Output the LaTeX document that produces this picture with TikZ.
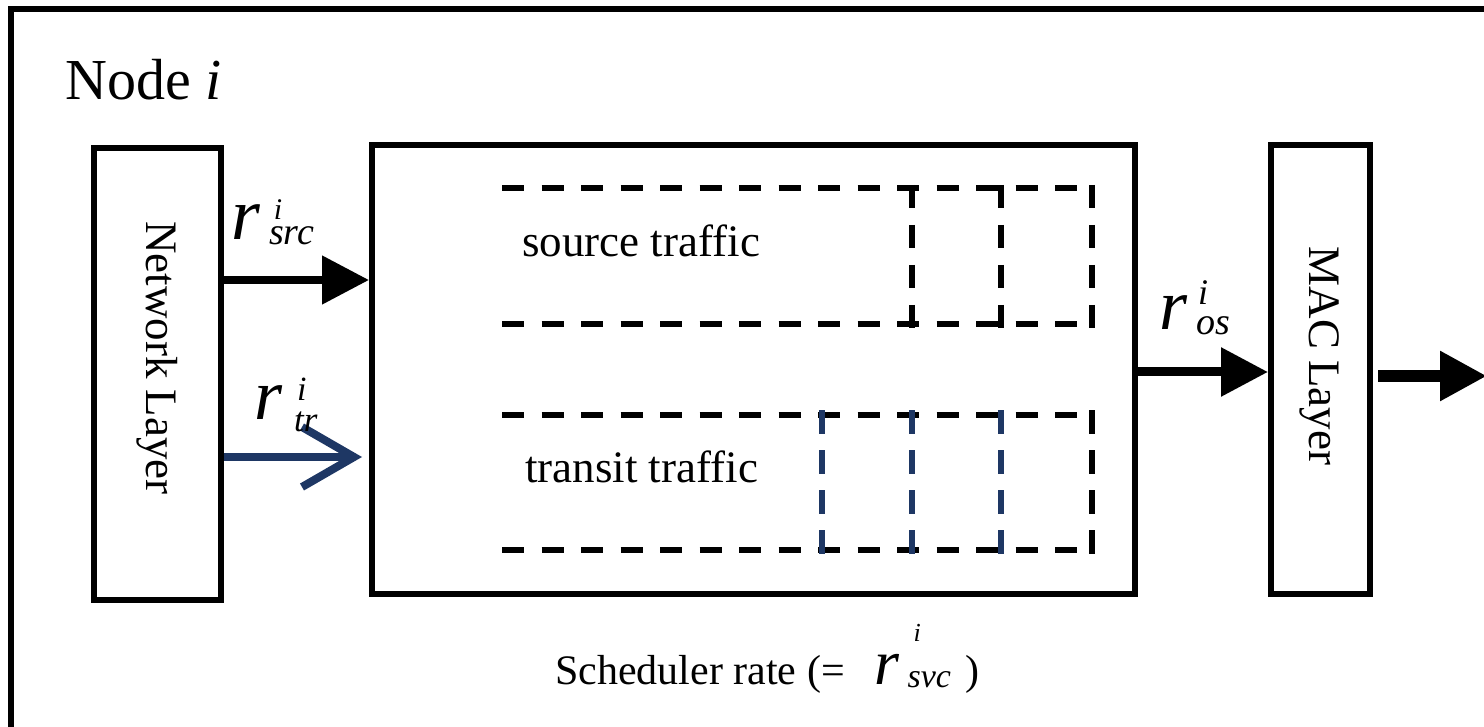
\documentclass[tikz,border=0pt]{standalone}
\usepackage{fontspec}
\setmainfont{Liberation Serif}
\usetikzlibrary{arrows.meta}

\definecolor{navy}{RGB}{30,55,100}

% text at a given point size
\newcommand{\sz}[2]{{\fontsize{#1}{#1}\selectfont #2}}

\tikzset{
  frame/.style={line width=6pt},
  layerbox/.style={draw, line width=6pt, inner sep=0pt},
  txt/.style={inner sep=0pt, anchor=base west},
  vtxt/.style={inner sep=0pt, rotate=-90, font=\fontsize{45}{45}\selectfont},
  lbl/.style={inner sep=0pt, anchor=base west, font=\itshape},
  queue/.style={line width=5.5pt, dash pattern=on 22pt off 17.5pt},
  slot/.style={line width=5.5pt, dash pattern=on 23.5pt off 16.5pt},
  flow/.style={line width=9pt, -{Triangle[length=47pt,width=47pt]}},
  transit/.style={line width=8pt, navy, -{Straight Barb[length=52pt,width=60pt]}}
}

\begin{document}
\begin{tikzpicture}[x=1pt,y=-1pt]
  \clip (0,0) rectangle (1484,727);
  \useasboundingbox (0,0) rectangle (1484,727);

  % outer frame of the node
  \draw[frame] (11,760) -- (11,9) -- (1520,9);
  \node[txt, font=\fontsize{58}{58}\selectfont] (title) at (65,100) {Node \textit{i}};

  % layers
  \node[layerbox, minimum width=127pt, minimum height=452pt] (nl) at (157.5,374) {};
  \node[vtxt] (nltext) at (157,358) {Network Layer};
  \node[layerbox, minimum width=763pt, minimum height=449pt] (sched) at (753.5,369.5) {};
  \node[layerbox, minimum width=99pt, minimum height=449pt] (mac) at (1320.5,369.5) {};
  \node[vtxt] (mactext) at (1320,356) {MAC Layer};

  % source traffic queue
  \draw[queue] (502,188) -- (1080,188);
  \draw[queue] (502,324) -- (1080,324);
  \foreach \x in {912,1001,1092} \draw[slot] (\x,185) -- (\x,329);
  \node[txt, font=\fontsize{45}{45}\selectfont] (srcq) at (522,257) {source traffic};

  % transit traffic queue
  \draw[queue] (502,415) -- (1080,415);
  \draw[queue] (502,550) -- (1080,550);
  \foreach \x in {822,912,1001} \draw[slot, navy] (\x,410) -- (\x,554);
  \draw[slot] (1092,410) -- (1092,554);
  \node[txt, font=\fontsize{45}{45}\selectfont] (trq) at (525,482) {transit traffic};

  % flows between the layers
  \coordinate (ysrc) at (0,280);
  \coordinate (ytr) at (0,457);
  \coordinate (yos) at (0,372);
  \coordinate (out) at (1487,376);
  \draw[flow, line width=8pt] (nl.east |- ysrc) -- (sched.west |- ysrc);
  \draw[transit, shorten >=7pt] (nl.east |- ytr) -- (sched.west |- ytr);
  \draw[flow] (sched.east |- yos) -- (mac.west |- yos);
  \draw[flow, line width=12pt] ([xshift=5pt]mac.east |- out) -- (out);

  % rate labels
  \node[lbl] (rsrc) at (231,240) {\sz{74}{r}\hbox to 0pt{\kern14pt\raisebox{20pt}{\sz{30}{i}}\hss}\kern9pt\raisebox{-5pt}{\sz{38}{src}}};
  \node[lbl] (rtr) at (254,420) {\sz{72}{r}\hbox to 0pt{\kern15pt\raisebox{20pt}{\sz{34}{i}}\hss}\kern12pt\raisebox{-12pt}{\sz{35}{tr}}};
  \node[lbl] (ros) at (1159,330) {\sz{72}{r}\hbox to 0pt{\kern11pt\raisebox{25pt}{\sz{36}{i}}\hss}\kern9pt\raisebox{-5pt}{\sz{38}{os}}};

  % scheduler rate
  \node[txt, font=\fontsize{42}{42}\selectfont] (rate) at (555,684)
    {Scheduler rate (=\hspace{30pt}\textit{\sz{64}{r}\hbox to 0pt{\kern14pt\raisebox{43pt}{\sz{26}{i}}\hss}\kern8pt\raisebox{-3pt}{\sz{34}{svc}}}\hspace{14pt})};
\end{tikzpicture}
\end{document}
